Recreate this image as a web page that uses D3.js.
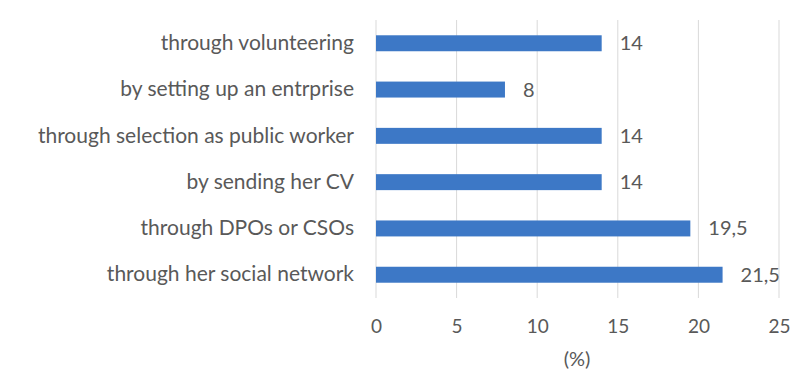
<!DOCTYPE html>
<html>
<head>
<meta charset="utf-8">
<script src="https://cdn.jsdelivr.net/npm/d3@7"></script>
<style>
  html, body { margin: 0; padding: 0; background: #ffffff; }
  svg text { font-family: Lato, "Open Sans", sans-serif; fill: #595959; }
</style>
</head>
<body>
<svg id="chart" width="792" height="373"></svg>
<script>
// Ways of finding employment, share of respondents (%)
const categories = [
  "through volunteering",
  "by setting up an entrprise",
  "through selection as public worker",
  "by sending her CV",
  "through DPOs or CSOs",
  "through her social network"
];
const values = [14, 8, 14, 14, 19.5, 21.5];
const valueLabels = ["14", "8", "14", "14", "19,5", "21,5"];
const xTicks = [0, 5, 10, 15, 20, 25];
const axisTitle = "(%)";

const svg = d3.select("#chart");
const margin = { left: 376, right: 13, top: 20, bottom: 75 };
const width = 792, height = 373;

const x = d3.scaleLinear().domain([0, 25]).range([margin.left, width - margin.right]);
const y = d3.scaleBand().domain(categories)
  .range([margin.top, height - margin.bottom]).paddingInner(0.655).paddingOuter(0.33);

// vertical gridlines
svg.append("g").selectAll("line").data(xTicks).join("line")
  .attr("x1", d => x(d)).attr("x2", d => x(d))
  .attr("y1", margin.top).attr("y2", height - margin.bottom)
  .attr("stroke", "#d9d9d9").attr("stroke-width", 1);

// bars
svg.append("g").selectAll("rect").data(values).join("rect")
  .attr("x", x(0))
  .attr("y", (d, i) => y(categories[i]))
  .attr("width", d => x(d) - x(0))
  .attr("height", y.bandwidth())
  .attr("fill", "#3d78c6");

// value labels
svg.append("g").selectAll("text").data(values).join("text")
  .attr("x", d => x(d) + 18)
  .attr("y", (d, i) => y(categories[i]) + y.bandwidth() / 2)
  .attr("dy", "0.35em")
  .style("font-size", "20px")
  .text((d, i) => valueLabels[i]);

// category labels
const yAxis = d3.axisLeft(y).tickSize(0).tickPadding(22);
const gy = svg.append("g").attr("transform", `translate(${x(0)},0)`).call(yAxis);
gy.select(".domain").remove();
gy.selectAll("text").style("font-size", "21px").attr("fill", null);

// x axis tick labels
const xAxis = d3.axisBottom(x).tickValues(xTicks).tickSize(0);
const gx = svg.append("g").attr("transform", `translate(0,${height - margin.bottom})`).call(xAxis);
gx.select(".domain").remove();
gx.selectAll("text").style("font-size", "19px").attr("fill", null)
  .attr("y", 28).attr("dy", "0.35em");

// axis title
svg.append("text")
  .attr("x", 577)
  .attr("y", 366)
  .attr("text-anchor", "middle")
  .style("font-size", "20px")
  .text(axisTitle);
</script>
</body>
</html>
